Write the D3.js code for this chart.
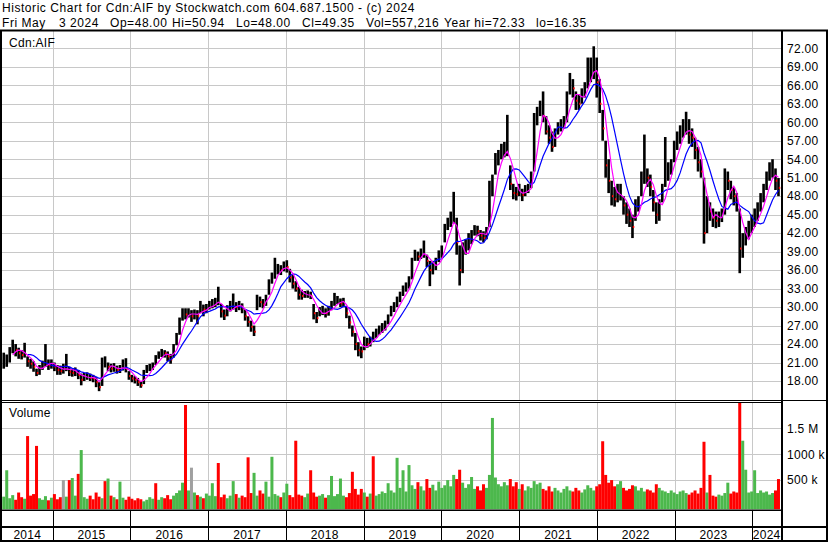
<!DOCTYPE html>
<html><head><meta charset="utf-8">
<script src="https://cdn.jsdelivr.net/npm/d3@7"></script>
<style>
body{margin:0;background:#fff}
svg{display:block}
text{font-family:"Liberation Sans",Arial,sans-serif;fill:#000}
</style>
</head><body>
<svg id="c" width="830" height="543"></svg>
<script>
// ---------------- DATA (bi-weekly periods ending Fridays) ----------------
const startDate = "2014-05-16";
const closes = [
21.0,21.5,22.5,24.0,23.0,22.5,22.2,22.8,21.2,20.8,
20.3,19.3,20.0,20.6,21.5,20.6,20.8,20.3,19.8,19.6,
20.0,20.5,19.5,19.3,19.5,19.0,18.2,18.6,18.8,18.5,
18.4,17.8,17.0,20.5,21.0,20.3,20.0,20.2,19.8,20.0,
20.5,20.0,18.8,18.4,18.2,17.8,17.3,19.2,20.0,20.2,
20.5,21.5,22.3,22.6,22.5,22.0,21.5,23.5,25.0,27.5,
29.0,28.8,29.2,28.5,29.0,28.6,30.0,29.6,29.8,30.3,
30.6,30.8,31.5,29.3,28.6,29.5,30.2,30.5,30.0,30.3,
29.8,28.5,27.6,26.8,26.0,31.0,30.8,30.4,31.2,33.5,
34.8,36.0,36.2,36.0,36.8,36.5,34.8,33.8,33.0,32.0,
31.8,32.0,32.2,31.8,29.0,28.2,29.2,29.5,29.0,29.4,
30.2,31.0,31.2,30.6,30.8,29.0,27.5,26.0,24.0,23.0,
22.8,24.5,24.0,24.6,25.2,25.8,26.3,26.6,27.0,28.0,
29.3,30.0,30.8,31.5,32.6,33.2,34.0,36.5,38.5,38.2,
38.8,39.2,37.5,36.0,36.5,37.0,38.3,39.0,42.5,43.5,
44.0,45.0,40.5,36.0,38.5,39.8,40.5,41.5,42.5,42.3,
41.6,41.2,42.0,48.0,50.5,53.5,54.5,55.0,55.5,56.0,
50.0,48.5,48.3,49.0,48.2,48.8,49.3,50.5,59.5,61.5,
62.5,61.0,58.5,57.5,56.0,57.5,59.0,59.5,60.0,63.0,
66.0,65.5,63.5,63.0,64.5,65.5,68.0,69.0,70.0,66.5,
63.0,59.0,53.0,50.5,48.0,47.5,48.5,49.0,46.5,45.0,
44.0,43.0,46.0,47.0,50.5,52.0,51.0,49.5,47.0,45.0,
46.0,48.5,51.0,52.0,53.0,55.5,57.0,58.0,59.0,59.5,
58.0,57.5,55.5,53.5,52.0,42.0,46.0,45.5,44.5,44.0,
44.5,45.0,51.0,50.5,49.0,48.0,47.0,39.5,40.5,41.5,
42.5,43.5,44.5,45.5,47.0,48.5,50.5,52.0,52.5,50.5,
49.35];
const highs = [
22.6,22.3,23.5,24.7,24.0,23.4,23.0,24.2,22.0,21.6,
21.2,20.0,20.6,21.3,24.0,21.5,21.5,21.0,20.6,20.5,
20.8,22.4,20.3,20.0,20.2,19.8,19.2,19.3,19.4,19.2,
19.0,18.6,17.8,21.8,22.0,21.0,20.8,20.9,20.5,20.6,
21.5,21.7,19.6,19.0,18.8,18.5,18.0,19.8,20.6,20.8,
21.0,22.2,22.8,23.2,23.0,22.8,22.4,24.0,25.8,28.3,
29.8,29.8,29.8,29.5,29.6,29.5,31.0,30.4,30.5,31.0,
31.3,31.5,33.3,30.5,29.6,30.3,31.0,32.2,30.8,31.0,
30.6,29.6,28.5,27.8,27.0,32.0,31.7,31.3,32.0,34.5,
35.6,38.0,37.0,36.8,37.4,37.6,36.2,35.2,34.2,33.3,
32.8,32.6,32.7,32.5,30.5,29.2,30.0,30.2,29.8,30.2,
31.0,32.3,31.8,31.4,31.5,30.2,28.6,27.0,25.8,24.3,
23.6,25.2,25.0,25.2,26.0,26.5,27.0,27.4,27.8,28.8,
30.2,30.8,31.7,32.5,33.5,34.0,35.0,38.0,39.3,39.0,
39.5,40.8,38.5,37.5,37.5,38.0,39.2,40.0,43.5,44.5,
45.5,48.7,44.5,40.0,40.5,41.0,42.0,42.5,43.3,43.2,
42.5,42.3,43.0,50.5,51.5,55.0,55.5,56.5,56.8,61.2,
53.0,50.0,49.5,50.0,49.2,49.8,50.0,52.0,61.5,62.5,
63.5,65.0,61.0,59.5,58.5,59.0,60.0,60.5,61.0,65.0,
68.0,67.0,65.0,64.5,65.5,66.5,70.5,70.5,72.33,70.5,
67.0,62.0,57.0,54.0,50.5,49.5,50.0,50.0,48.0,47.0,
46.0,45.0,47.5,48.0,52.0,58.0,52.5,51.5,49.0,47.0,
47.5,50.0,57.6,53.5,54.0,57.0,58.5,59.5,60.5,61.7,
60.5,59.0,57.5,56.0,54.0,51.0,48.0,47.0,46.0,45.5,
45.5,46.0,52.5,52.0,50.5,49.5,48.5,46.0,42.0,43.0,
44.0,45.0,46.0,47.0,48.5,50.0,52.0,53.5,54.0,52.5,
50.94];
const lows = [
20.0,20.3,21.0,22.5,22.0,21.6,21.5,21.8,20.3,20.0,
19.5,18.8,19.0,19.8,20.3,19.8,20.0,19.6,19.0,19.0,
19.2,19.6,18.8,18.7,18.8,18.3,17.3,18.0,18.2,18.0,
17.8,17.0,16.35,17.2,20.2,19.6,19.4,19.5,19.2,19.3,
19.7,19.4,18.2,17.8,17.6,17.2,16.9,17.5,19.3,19.6,
19.8,20.6,21.6,21.9,21.8,21.2,20.8,21.8,23.8,25.5,
27.8,28.0,28.3,27.6,28.0,27.2,29.0,28.5,29.0,29.6,
29.8,30.0,30.3,28.3,27.9,28.5,29.3,29.6,29.2,29.5,
29.0,27.8,26.8,26.0,25.3,29.5,30.0,29.8,30.2,32.0,
33.8,34.6,35.3,35.2,35.8,35.6,34.0,33.0,32.5,31.2,
31.2,31.5,31.5,31.3,28.0,27.4,28.5,28.7,28.3,28.6,
29.5,30.2,30.5,30.0,30.0,28.2,26.5,25.2,23.0,22.0,
21.7,23.0,23.4,23.6,24.3,25.0,25.5,25.8,26.2,27.2,
28.5,29.2,30.0,30.8,31.8,32.5,33.0,34.5,37.5,37.5,
37.8,38.0,36.5,33.4,35.3,36.0,37.3,38.0,40.5,42.5,
43.0,43.5,38.5,33.5,35.5,38.5,39.2,40.2,41.6,41.5,
40.8,40.5,41.0,43.0,48.0,51.5,53.0,54.0,54.3,54.5,
49.0,47.5,47.3,48.0,47.2,48.0,48.5,49.3,52.0,59.5,
61.0,60.0,58.0,56.5,55.2,56.0,58.0,58.5,59.0,60.0,
64.5,64.0,62.0,62.0,63.0,64.0,65.5,66.5,67.0,64.0,
61.5,57.0,51.0,48.5,46.5,46.3,47.0,47.3,45.0,43.5,
43.0,41.2,44.0,45.5,48.0,50.0,49.5,48.0,45.5,43.5,
44.0,47.0,49.5,50.5,51.5,53.5,55.5,56.5,57.5,58.0,
56.5,56.0,54.0,52.0,51.0,40.3,42.0,44.0,43.0,42.8,
43.0,43.8,45.0,49.0,47.5,46.5,45.5,35.5,38.0,40.0,
41.0,42.0,43.0,44.0,45.5,47.0,49.0,50.5,51.0,49.0,
48.0];
// volume per period, thousands of shares
const volumes = [
180,690,150,210,120,260,170,140,1350,200,
230,1160,150,120,190,110,160,230,130,170,
500,180,500,540,200,620,1080,170,140,200,
130,260,180,150,480,530,200,170,130,470,
160,120,180,140,110,150,130,90,120,170,
140,440,120,170,150,210,130,200,250,300,
450,1950,300,740,260,210,180,150,240,200,
440,190,830,170,220,150,200,480,230,160,
200,170,940,250,640,200,300,240,470,180,
950,230,200,170,260,430,210,170,1260,220,
200,170,240,690,260,180,200,230,160,210,
580,190,230,530,200,170,250,660,330,220,
330,260,180,240,960,200,230,280,250,440,
300,260,930,350,690,280,790,400,330,460,
380,300,520,350,410,300,470,350,400,500,
380,600,520,700,450,350,420,560,330,380,
300,420,350,600,1700,550,420,380,460,400,
520,380,460,330,420,300,380,350,480,420,
450,330,300,380,280,350,300,260,330,380,
300,280,350,300,260,320,400,350,300,380,
420,1250,600,450,500,380,420,480,350,300,
330,400,380,300,350,280,320,300,260,420,
350,300,280,250,300,260,230,280,300,250,
220,260,300,240,350,1240,260,600,200,180,
220,200,250,450,240,280,260,2000,1260,700,
260,280,690,250,300,260,280,220,250,300,
520];
const greenIdx = [1,23,26,35,39,60,70,77,84,88,90,95,110,113,129,132,134,136,164,243,248,249,252];
const redIdx = [8,11,22,25,34,51,61,72,82,98,103,117,120,124,201,235,237,247,260];
const grayIdx = [20,63];
const priceTicks = [18,21,24,27,30,33,36,39,42,45,48,51,54,57,60,63,66,69,72];
const volTicks = [500,1000,1500];
const volTickLabels = ["500 k","1000 k","1.5 M"];
const years = [2014,2015,2016,2017,2018,2019,2020,2021,2022,2023,2024];
const titleLine1 = "Historic Chart for Cdn:AIF by Stockwatch.com 604.687.1500 - (c) 2024";
const titleFields = ["Fri May", "3 2024", "Op=48.00", "Hi=50.94", "Lo=48.00", "Cl=49.35", "Vol=557,216", "Year hi=72.33", "lo=16.35"];
const symbol = "Cdn:AIF";
const maShort = 4, maLong = 9;

// ---------------- CHART ----------------
const svg = d3.select("#c");
const plotL = 2, plotR = 781;
const pTop = 31, pBot = 400;
const vTop = 403, vBot = 509.5;

const parse = d3.timeParse("%Y-%m-%d");
const d0 = parse(startDate);
const data = closes.map((c, i) => ({
  date: d3.timeDay.offset(d0, 14 * i), c, h: highs[i], l: lows[i], v: volumes[i], i
}));

const x = d3.scaleTime()
  .domain([new Date(2015, 0, 1), new Date(2024, 0, 1)])
  .range([52.7, 752.3]);
const y = d3.scaleLinear().domain([18, 72]).range([381, 48.3]);
const yv = d3.scaleLinear().domain([0, 1500]).range([506, 428.3]);

const grid = "#c8c8c8";

const defs = svg.append("defs");
defs.append("clipPath").attr("id", "cp").append("rect")
  .attr("x", plotL).attr("y", pTop).attr("width", plotR - plotL).attr("height", pBot - pTop);
defs.append("clipPath").attr("id", "cv").append("rect")
  .attr("x", plotL).attr("y", vTop).attr("width", plotR - plotL).attr("height", vBot - vTop);

const yearStarts = years.slice(1).map(yr => new Date(yr, 0, 1));

const gP = svg.append("g");
gP.selectAll("line.h").data(priceTicks).join("line")
  .attr("x1", plotL).attr("x2", plotR)
  .attr("y1", d => Math.round(y(d)) + 0.5).attr("y2", d => Math.round(y(d)) + 0.5)
  .attr("stroke", grid);
gP.selectAll("line.v").data(yearStarts).join("line")
  .attr("x1", d => Math.round(x(d)) + 0.5).attr("x2", d => Math.round(x(d)) + 0.5)
  .attr("y1", pTop).attr("y2", pBot).attr("stroke", grid);

const gV = svg.append("g");
gV.selectAll("line.h").data(volTicks).join("line")
  .attr("x1", plotL).attr("x2", plotR)
  .attr("y1", d => Math.round(yv(d)) + 0.5).attr("y2", d => Math.round(yv(d)) + 0.5)
  .attr("stroke", grid);
gV.selectAll("line.v").data(yearStarts).join("line")
  .attr("x1", d => Math.round(x(d)) + 0.5).attr("x2", d => Math.round(x(d)) + 0.5)
  .attr("y1", vTop).attr("y2", vBot).attr("stroke", grid);

const bw = 2.6;
const gBars = svg.append("g").attr("clip-path", "url(#cp)");
gBars.selectAll("rect").data(data).join("rect")
  .attr("x", d => x(d.date) - bw / 2).attr("width", bw)
  .attr("y", d => y(d.h)).attr("height", d => Math.max(1, y(d.l) - y(d.h)))
  .attr("fill", "#000");
gBars.selectAll("rect.tk").data(data.filter((d, i) => i > 0 && d.c < closes[i - 1])).join("rect")
  .attr("class", "tk")
  .attr("x", d => x(d.date) + 0.3).attr("width", 1.5)
  .attr("y", d => y(d.c) - 1).attr("height", 2)
  .attr("fill", "#ff0000");

function sma(n) {
  return data.map((d, i) => i < n - 1 ? null : { date: d.date, v: d3.mean(closes.slice(i - n + 1, i + 1)) })
    .filter(d => d);
}
const line = d3.line().x(d => x(d.date)).y(d => y(d.v));
const gMA = svg.append("g").attr("clip-path", "url(#cp)");
gMA.append("path").datum(sma(maLong)).attr("d", line)
  .attr("fill", "none").attr("stroke", "#0000ff").attr("stroke-width", 1.2);
gMA.append("path").datum(sma(maShort)).attr("d", line)
  .attr("fill", "none").attr("stroke", "#ff00ff").attr("stroke-width", 1.2);

function volColor(d, i) {
  if (grayIdx.includes(i)) return "#a0a0a0";
  if (greenIdx.includes(i)) return "#4cb84c";
  if (redIdx.includes(i)) return "#ff0000";
  if (i === 0) return "#4cb84c";
  return d.c >= closes[i - 1] ? "#4cb84c" : "#ff0000";
}
const gVol = svg.append("g").attr("clip-path", "url(#cv)");
gVol.selectAll("rect").data(data).join("rect")
  .attr("x", d => x(d.date) - 1.5).attr("width", 3)
  .attr("y", d => yv(d.v)).attr("height", d => vBot - yv(d.v))
  .attr("fill", (d, i) => volColor(d, i));

const frame = svg.append("g").attr("fill", "#000");
frame.append("rect").attr("x", 0).attr("y", 29.5).attr("width", 828).attr("height", 2);
frame.append("rect").attr("x", 0).attr("y", 30).attr("width", 2).attr("height", 512);
frame.append("rect").attr("x", 781).attr("y", 30).attr("width", 2).attr("height", 512);
frame.append("rect").attr("x", 826).attr("y", 30).attr("width", 2).attr("height", 512);
frame.append("rect").attr("x", 0).attr("y", 400).attr("width", 828).attr("height", 1);
frame.append("rect").attr("x", 0).attr("y", 402).attr("width", 782).attr("height", 1);
frame.append("rect").attr("x", 0).attr("y", 509.5).attr("width", 782).attr("height", 1.5);
frame.append("rect").attr("x", 0).attr("y", 526).attr("width", 828).attr("height", 2);
frame.append("rect").attr("x", 0).attr("y", 540).attr("width", 828).attr("height", 2);
frame.selectAll("rect.ys").data(yearStarts).join("rect")
  .attr("x", d => Math.round(x(d))).attr("y", 510).attr("width", 1).attr("height", 31);

svg.append("text").attr("x", 2).attr("y", 11.5).attr("font-size", 12).attr("letter-spacing", 0.55)
  .text(titleLine1);
const fieldX = [2, 59, 110, 172, 236, 302, 366, 444, 536];
svg.append("g").selectAll("text").data(titleFields).join("text")
  .attr("x", (d, i) => fieldX[i]).attr("y", 26.5).attr("font-size", 12).attr("letter-spacing", 0.55)
  .text(d => d);
svg.append("text").attr("x", 9).attr("y", 46.5).attr("font-size", 12).attr("letter-spacing", 0.3).text(symbol);
svg.append("text").attr("x", 9).attr("y", 417).attr("font-size", 12).attr("letter-spacing", 0.3).text("Volume");

svg.append("g").selectAll("text").data(priceTicks).join("text")
  .attr("x", 787).attr("y", d => y(d) + 4.3).attr("font-size", 12).attr("letter-spacing", 0.3)
  .text(d => d3.format(".2f")(d));
svg.append("g").selectAll("text").data(volTicks).join("text")
  .attr("x", 787).attr("y", d => yv(d) + 4.3).attr("font-size", 12).attr("letter-spacing", 0.3)
  .text((d, i) => volTickLabels[i]);

const bounds = [plotL, ...yearStarts.map(d => x(d)), plotR];
svg.append("g").selectAll("text").data(years).join("text")
  .attr("x", (d, i) => (bounds[i] + bounds[i + 1]) / 2)
  .attr("y", 539).attr("text-anchor", "middle").attr("font-size", 12).attr("letter-spacing", 0.3)
  .text(d => d);
</script>
</body></html>
